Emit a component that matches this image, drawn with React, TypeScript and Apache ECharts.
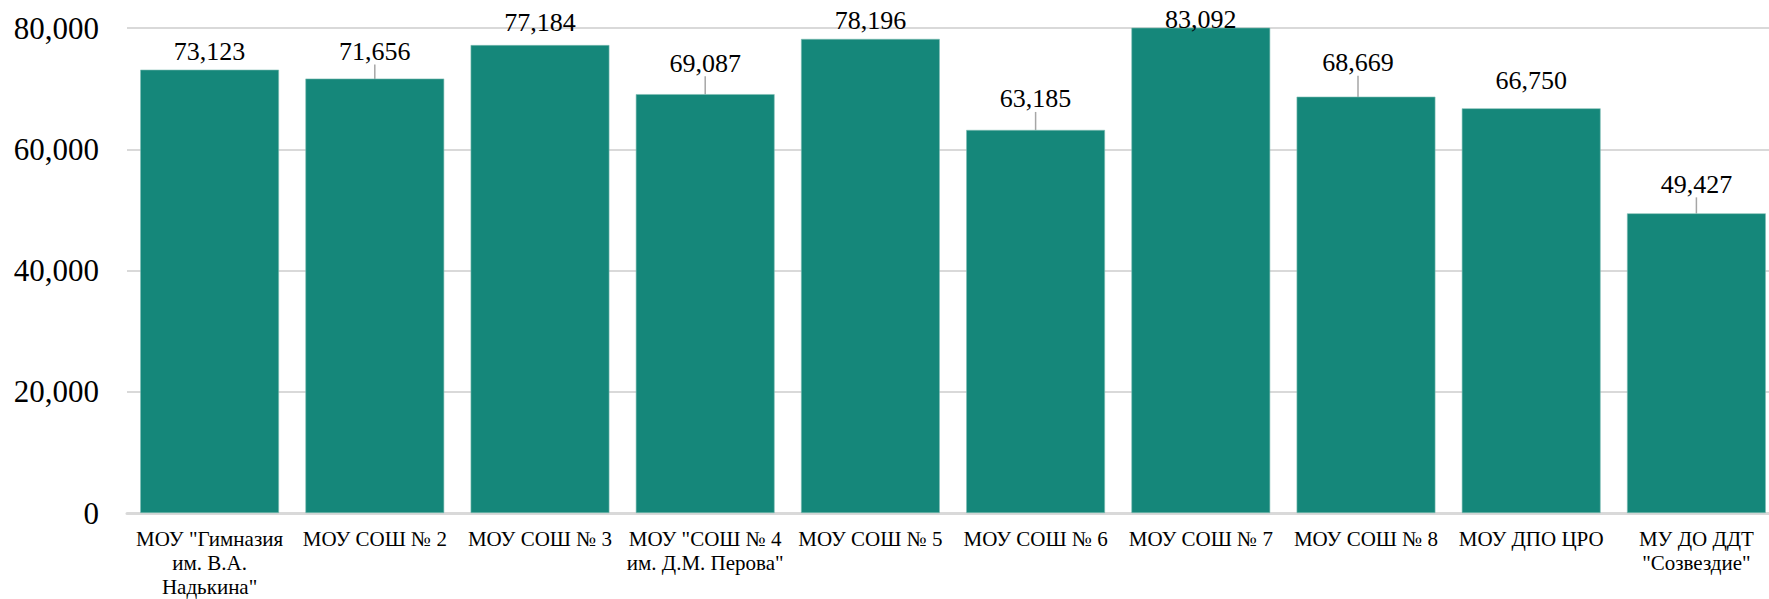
import React, { useEffect, useRef } from "react";
import * as echarts from "echarts";

const categories = [
  'МОУ "Гимназия\nим. В.А.\nНадькина"',
  "МОУ СОШ № 2",
  "МОУ СОШ № 3",
  'МОУ "СОШ № 4\nим. Д.М. Перова"',
  "МОУ СОШ № 5",
  "МОУ СОШ № 6",
  "МОУ СОШ № 7",
  "МОУ СОШ № 8",
  "МОУ ДПО ЦРО",
  'МУ ДО ДДТ\n"Созвездие"',
];
const values = [73123, 71656, 77184, 69087, 78196, 63185, 83092, 68669, 66750, 49427];
const yTicks = [0, 20000, 40000, 60000, 80000];

// label displacement (px) relative to the default "top" position, per bar
const labelDx = [0, 0, 0, 0, 0, 0, 0, -8, 0, 0];
const labelDy = [0, -9, -5, -13, 0, -13, 10, -16, -10, -11];
const leaderLine = [false, true, false, true, false, true, false, true, false, true];

const FONT = "Liberation Serif, Times New Roman, serif";

export default function App() {
  const ref = useRef<HTMLDivElement>(null);
  useEffect(() => {
    document.body.style.margin = "0";
    const chart = echarts.init(ref.current!, null, { renderer: "svg" });
    chart.setOption({
      animation: false,
      backgroundColor: "#ffffff",
      textStyle: { fontFamily: FONT },
      grid: {
        left: 127,
        width: 1652,
        top: 28,
        bottom: 86,
        containLabel: false,
        outerBoundsMode: "none",
      },
      xAxis: {
        type: "category",
        data: categories,
        axisLine: { show: true, lineStyle: { color: "#d9d9d9", width: 3 } },
        axisTick: { show: false },
        axisLabel: {
          interval: 0,
          margin: 14,
          fontFamily: FONT,
          fontSize: 21,
          lineHeight: 24,
          color: "#000000",
        },
      },
      yAxis: {
        type: "value",
        min: yTicks[0],
        max: yTicks[yTicks.length - 1],
        interval: yTicks[1] - yTicks[0],
        axisLine: { show: false },
        axisTick: { show: false },
        splitLine: { show: true, lineStyle: { color: "#d9d9d9", width: 2 } },
        axisLabel: {
          margin: 28,
          fontFamily: FONT,
          fontSize: 31,
          color: "#000000",
          formatter: (v: number) => v.toLocaleString("en-US"),
        },
      },
      series: [
        {
          type: "bar",
          data: values.map((v, i) => ({
            value: v,
            labelLine: { show: leaderLine[i] },
          })),
          barCategoryGap: "16%",
          clip: true,
          itemStyle: { color: "#15877A", borderColor: "#7fbdb3", borderWidth: 0.6 },
          label: {
            show: true,
            position: "top",
            distance: 5,
            fontFamily: FONT,
            fontSize: 26,
            color: "#000000",
            formatter: (p: any) => Number(p.value).toLocaleString("en-US"),
          },
          labelLine: { show: true, lineStyle: { color: "#a6a6a6", width: 1.5 } },
          labelLayout: (p: any) => ({ dx: labelDx[p.dataIndex], dy: labelDy[p.dataIndex] }),
        },
      ],
    });
    return () => chart.dispose();
  }, []);
  return (
    <div
      ref={ref}
      style={{ position: "absolute", left: 0, top: 0, width: 1769, height: 599 }}
    />
  );
}
